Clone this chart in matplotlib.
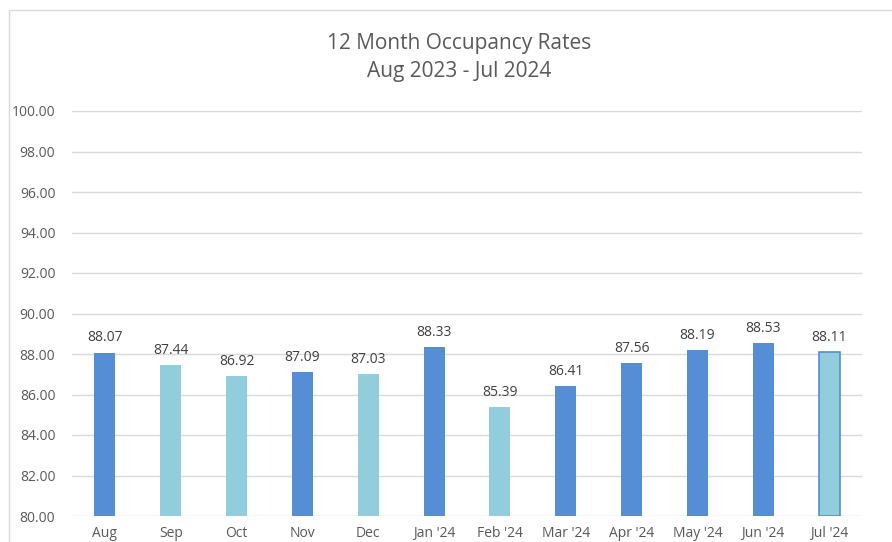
import matplotlib.pyplot as plt
from matplotlib.patches import Rectangle

# data
months = ["Aug", "Sep", "Oct", "Nov", "Dec", "Jan '24", "Feb '24",
          "Mar '24", "Apr '24", "May '24", "Jun '24", "Jul '24"]
rates = [88.07, 87.44, 86.92, 87.09, 87.03, 88.33, 85.39,
         86.41, 87.56, 88.19, 88.53, 88.11]
shade = ["dark", "light", "light", "dark", "light", "dark", "light",
         "dark", "dark", "dark", "dark", "light"]

DARK = "#558ED5"
LIGHT = "#92CDDC"
TEXT = "#595959"

plt.rcParams['font.family'] = ['Open Sans', 'DejaVu Sans']

fig = plt.figure(figsize=(8.92, 5.42), dpi=100)

# chart frame border
fig.patches.append(Rectangle((9 / 892, -0.1), 1.0, 1 - 10 / 542 + 0.1,
                             transform=fig.transFigure, fill=False,
                             edgecolor="#D9D9D9", linewidth=1))

ax = fig.add_axes([72 / 892, 1 - 516 / 542, 790 / 892, 405 / 542])

colors = [DARK if s == "dark" else LIGHT for s in shade]
x = range(len(months))
bars = ax.bar(x, [r - 80 for r in rates], bottom=80, width=0.32,
              color=colors, zorder=3)
# last bar has a dark outline
bars[-1].set_edgecolor(DARK)
bars[-1].set_linewidth(1.2)

for xi, r in zip(x, rates):
    ax.text(xi, r + 0.35, f"{r:.2f}", ha="center", va="bottom",
            fontsize=10, color="#404040")

ax.set_ylim(80, 100)
ax.set_xlim(-0.5, len(months) - 0.5)
ax.set_yticks(range(80, 101, 2))
ax.set_yticklabels([f"{v:.2f}" for v in range(80, 101, 2)])
ax.set_xticks(list(x))
ax.set_xticklabels(months)
ax.tick_params(axis="both", length=0, labelsize=10, labelcolor=TEXT)
ax.tick_params(axis="y", pad=12)
ax.tick_params(axis="x", pad=7)
ax.grid(axis="y", color="#D9D9D9", linewidth=1, zorder=0)
for s in ["top", "right", "left", "bottom"]:
    ax.spines[s].set_visible(False)

fig.text(459 / 892, 1 - 43 / 542, "12 Month Occupancy Rates", ha="center",
         va="center", fontsize=15, color=TEXT)
fig.text(459 / 892, 1 - 71 / 542, "Aug 2023 - Jul 2024", ha="center",
         va="center", fontsize=15, color=TEXT)

fig.savefig("out.png", dpi=100)
